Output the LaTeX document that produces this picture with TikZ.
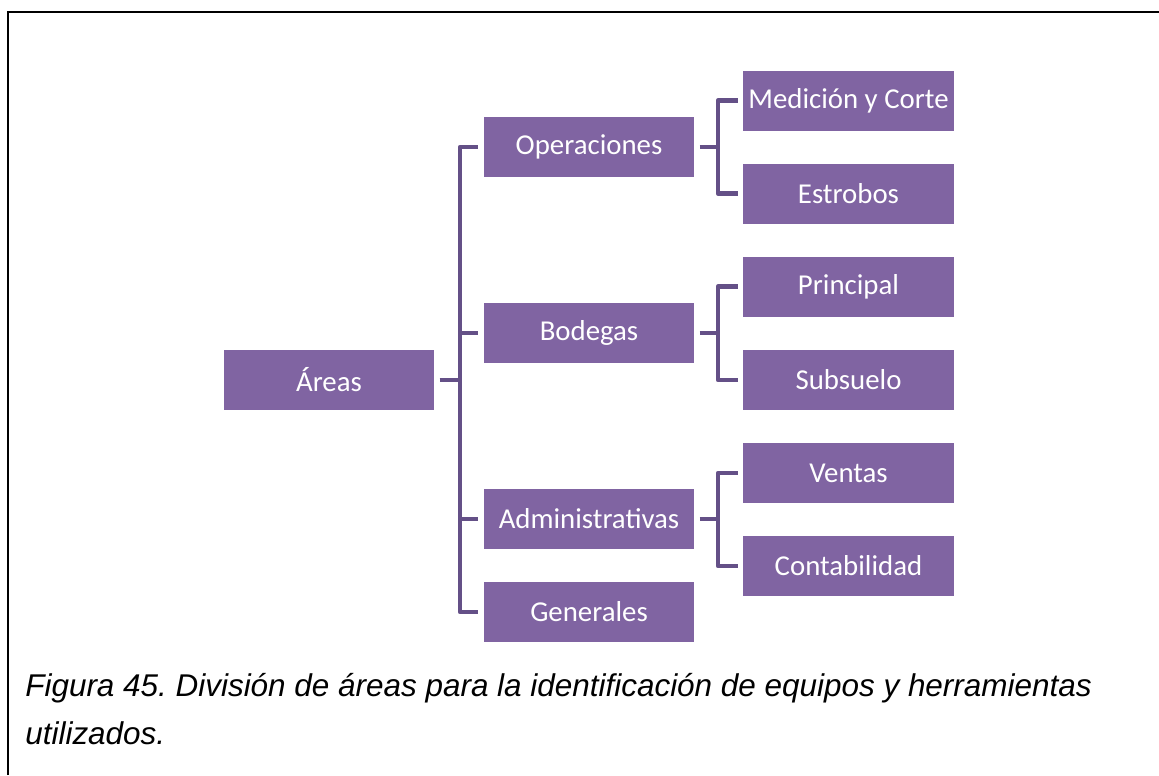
\documentclass[tikz,border=0pt]{standalone}
\usepackage{fontspec}
\setmainfont{Carlito}
\newfontfamily\capfont{Liberation Sans}
\definecolor{boxpurple}{RGB}{128,100,162}
\definecolor{linepurple}{RGB}{100,80,135}
\tikzset{
    box/.style={fill=boxpurple, text=white, minimum width=4.22cm, minimum height=1.2cm,
        inner sep=0pt, font=\fontsize{16.4}{19}\selectfont},
    conn/.style={draw=linepurple, line width=2.3pt, line join=round}
}
\frenchspacing
\begin{document}
\begin{tikzpicture}[x=0.02cm, y=-0.02cm]
            \useasboundingbox (0,0) rectangle (1159,775);
            \draw[line width=1.1pt] (8,775)--(8,12)--(1159,12);

            \node[box] (areas) at (329,380) {Áreas};

            \node[box] (ops) at (589,147) {Operaciones};
            \node[box] (bod) at (589,333) {Bodegas};
            \node[box] (adm) at (589,519) {Administrativas};
            \node[box] (gen) at (589,612) {Generales};

            \node[box] (med) at (848.5,100.5) {Medición y Corte};
            \node[box] (estr) at (848.5,193.5) {Estrobos};
            \node[box] (prin) at (848.5,286.5) {Principal};
            \node[box] (sub) at (848.5,380) {Subsuelo};
            \node[box] (vent) at (848.5,473) {Ventas};
            \node[box] (cont) at (848.5,566) {Contabilidad};

            \foreach \c in {ops,bod,adm,gen}
                \draw[conn] ([xshift=0.1cm]areas.east) -- ++(20,0) |- ([xshift=-0.1cm]\c.west);
            \foreach \p/\c in {ops/med,ops/estr,bod/prin,bod/sub,adm/vent,adm/cont}
                \draw[conn] ([xshift=0.1cm]\p.east) -- ++(18,0) |- ([xshift=-0.1cm]\c.west);

            \node[anchor=north west, inner sep=0pt, align=left,
                font=\capfont\itshape\fontsize{17.9}{27.2}\selectfont] (cap) at (25,673)
                {Figura 45. División de áreas para la identificación de equipos y herramientas\\utilizados.};
        \end{tikzpicture}
\end{document}
